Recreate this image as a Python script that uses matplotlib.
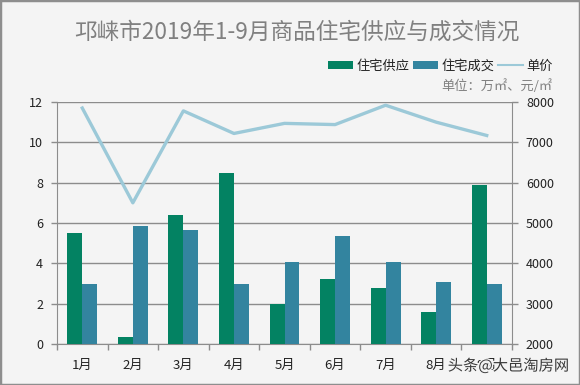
import matplotlib
matplotlib.use("Agg")
import matplotlib.pyplot as plt
import matplotlib.patheffects as pe
import numpy as np
from matplotlib.patches import Rectangle

plt.rcParams['font.family'] = ['Noto Sans CJK SC', 'DejaVu Sans']

months = ['1月', '2月', '3月', '4月', '5月', '6月', '7月', '8月', '9月']
supply = [5.5, 0.35, 6.4, 8.5, 2.0, 3.2, 2.8, 1.6, 7.9]
deals = [3.0, 5.85, 5.65, 3.0, 4.05, 5.35, 4.05, 3.05, 3.0]
price = [7850, 5500, 7780, 7220, 7470, 7440, 7920, 7500, 7170]

W, H = 580, 385
BG = '#f4f4f4'
GREEN = '#038262'
BLUE = '#33849f'
LINE = '#9cc9d8'
GRID = '#8c8c8c'

fig = plt.figure(figsize=(W / 100, H / 100), dpi=100, facecolor=BG)
ax = fig.add_axes([57 / W, 1 - 344 / H, 455 / W, 242 / H])
ax.set_facecolor('none')
x = np.arange(len(months))
bw = 0.295
b1 = ax.bar(x - bw / 2, supply, bw, color=GREEN, zorder=3, label='住宅供应')
b2 = ax.bar(x + bw / 2, deals, bw, color=BLUE, zorder=3, label='住宅成交')
ax.set_xlim(-0.5, len(months) - 0.5)
ax.set_ylim(0, 12)
ax.set_yticks(range(0, 13, 2))
ax.set_xticks(np.arange(-0.5, len(months)), minor=False)
ax.set_xticklabels([])
ax.tick_params(axis='x', length=4, color=GRID, width=1)
ax.tick_params(axis='y', length=4, color=GRID, width=1, labelsize=9, labelcolor='#222222', pad=6)
ax.grid(axis='y', color=GRID, linewidth=1, zorder=0)
ax.set_axisbelow(True)
for s in ['top', 'right']:
    ax.spines[s].set_visible(False)
for s in ['left', 'bottom']:
    ax.spines[s].set_color(GRID)
for xi, m in zip(x, months):
    ax.annotate(m, (xi, 0), xytext=(0, -15.5), textcoords='offset points', ha='center', va='center',
                fontsize=9.5, color='#222222', annotation_clip=False)

ax2 = ax.twinx()
ax2.set_facecolor('none')
l, = ax2.plot(x, price, color=LINE, linewidth=2.4, zorder=4, label='单价')
ax2.set_ylim(2000, 8000)
ax2.set_yticks(range(2000, 8001, 1000))
ax2.tick_params(axis='y', length=4, color=GRID, width=1, labelsize=9, labelcolor='#222222', pad=6)
for s in ['top', 'left', 'bottom']:
    ax2.spines[s].set_visible(False)
ax2.spines['right'].set_color(GRID)

fig.text(297 / W, 1 - 32 / H, '邛崃市2019年1-9月商品住宅供应与成交情况', ha='center', va='center',
         fontsize=16.3, color='#808080')
leg = fig.legend(handles=[b1, b2, l], loc='center right', bbox_to_anchor=(559 / W, 1 - 66 / H), ncol=3,
                 frameon=False, fontsize=9.5, handlelength=1.9, handleheight=0.6, handletextpad=0.25,
                 columnspacing=0.25, borderpad=0, labelcolor='#222222')
leg.get_lines()[0].set_linewidth(1.5)
fig.text(552 / W, 1 - 86 / H, '单位：万㎡、元/㎡', ha='right', va='center', fontsize=9.5, color='#808080')
fig.text(569 / W, 1 - 366 / H, '头条@大邑淘房网', ha='right', va='center', fontsize=11, color='#3a3a3a',
         zorder=10, path_effects=[pe.withStroke(linewidth=2, foreground='#f4f4f4')])

fig.add_artist(Rectangle((0, 0), 1, 1, transform=fig.transFigure, fill=False, edgecolor='#8e8e8e', linewidth=2.5))
fig.savefig('out.png', dpi=100, facecolor=BG)
